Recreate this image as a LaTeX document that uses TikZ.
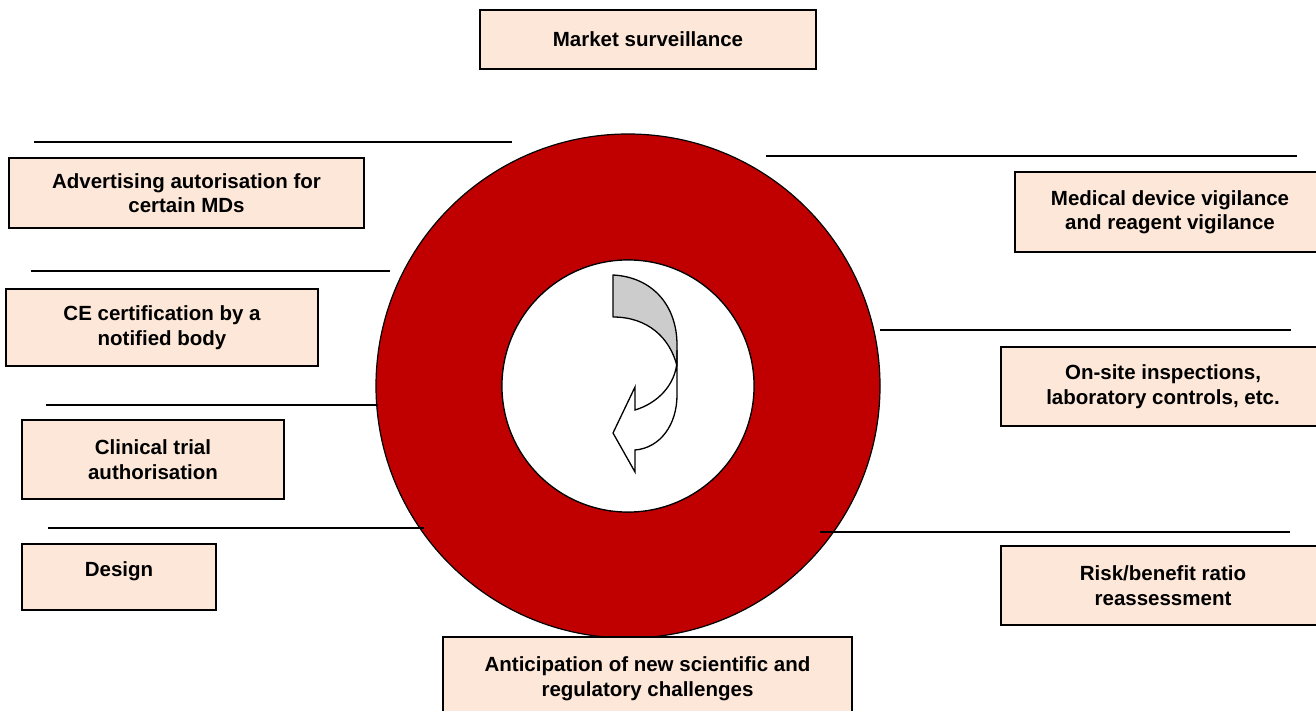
\documentclass[tikz,border=0pt]{standalone}
\usepackage{fontspec}
\setmainfont{Liberation Sans}
\definecolor{ringred}{RGB}{192,0,0}
\definecolor{boxfill}{RGB}{252,231,216}
\definecolor{arrgrey}{RGB}{204,204,204}
\begin{document}
\begin{tikzpicture}[x=1pt,y=-1pt,
  box/.style={draw=black,line width=1.6pt,fill=boxfill,align=center,
    font=\fontsize{20.5}{24.5}\selectfont\bfseries,inner sep=0pt},
  rule/.style={draw=black,line width=1.5pt}]
\useasboundingbox (0,0) rectangle (1316,711);
% ring
\fill[ringred,draw=black,line width=1.2pt,even odd rule] (628,386) circle[radius=252] (628,386) circle[radius=126];
\fill[white,draw=black,line width=1.2pt] (628,386) circle[radius=126];
% curved arrow
\filldraw[fill=arrgrey,draw=black,line width=1.3pt,line join=round]
  (613,275) .. controls (652,277) and (677,305) .. (677,345) -- (677,366)
  .. controls (670,338) and (648,317) .. (613,317) -- cycle;
\filldraw[fill=white,draw=black,line width=1.3pt,line join=miter]
  (677,350) -- (677,395) .. controls (677,425) and (660,448) .. (635,450)
  -- (635,472) -- (613,433) -- (635,387) -- (635,410)
  .. controls (658,403) and (675,385) .. (677,362) -- cycle;
% rules
\coordinate (l1a) at (34,142);  \coordinate (l1b) at (512,142);
\coordinate (l2a) at (31,271);  \coordinate (l2b) at (390,271);
\coordinate (l3a) at (46,405);  \coordinate (l3b) at (378,405);
\coordinate (l4a) at (48,528);  \coordinate (l4b) at (424,528);
\coordinate (r1a) at (766,156); \coordinate (r1b) at (1297,156);
\coordinate (r2a) at (880,330); \coordinate (r2b) at (1291,330);
\coordinate (r3a) at (820,532); \coordinate (r3b) at (1290,532);
\draw[rule] (l1a) -- (l1b);
\draw[rule] (l2a) -- (l2b);
\draw[rule] (l3a) -- (l3b);
\draw[rule] (l4a) -- (l4b);
\draw[rule] (r1a) -- (r1b);
\draw[rule] (r2a) -- (r2b);
\draw[rule] (r3a) -- (r3b);
% boxes
\node[box,minimum width=336,minimum height=59] (market) at (648,39.5) {Market surveillance};
\node[box,minimum width=355,minimum height=70] (advert) at (186.5,193) {Advertising autorisation for\\certain MDs};
\node[box,minimum width=312,minimum height=77] (ce) at (162,327.5) {CE certification by a\\notified body};
\node[box,minimum width=262,minimum height=79] (clin) at (153,459.5) {Clinical trial\\authorisation};
\node[box,minimum width=194,minimum height=66] (design) at (119,577) {\raisebox{16pt}{Design}};
\node[box,minimum width=310,minimum height=80] (medical) at (1170,212) {Medical device vigilance\\and reagent vigilance};
\node[box,minimum width=324,minimum height=79] (onsite) at (1163,386.5) {On-site inspections,\\laboratory controls, etc.};
\node[box,minimum width=324,minimum height=79] (risk) at (1163,585.5) {Risk/benefit ratio\\reassessment};
\node[box,minimum width=409,minimum height=84] (antic) at (647.5,679) {\raisebox{8pt}{\begin{tabular}{@{}c@{}}Anticipation of new scientific and\\regulatory challenges\end{tabular}}};
\end{tikzpicture}
\end{document}
